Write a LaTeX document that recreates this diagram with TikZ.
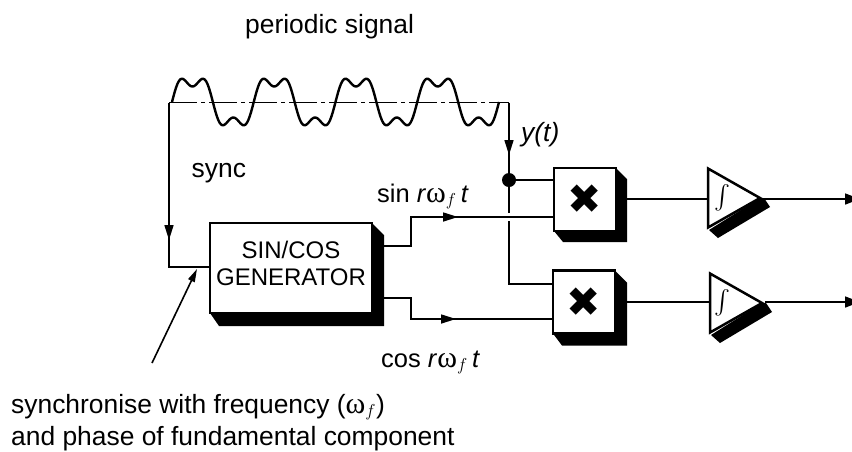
\documentclass[tikz,border=0pt]{standalone}
\usepackage{amsmath,amssymb}
\usepackage{fontspec}
\setmainfont{Liberation Sans}
\newfontfamily\symbfont{DejaVu Sans}
\newfontfamily\greekfont{Liberation Serif}
\usetikzlibrary{arrows.meta,shapes.geometric,calc}

\newcommand{\omf}{{\greekfont\fontsize{30}{30}\selectfont ω}$_{f}$}
\newcommand{\romf}{\textit{r}\omf\,\textit{t}}

\begin{document}
\begin{tikzpicture}
		[
			x=1pt,y=-1pt,
			align=center,
			font=\fontsize{26.4}{32}\selectfont,
			label/.style={draw=none,fill=none,inner sep=0pt},
			block/.style={draw,line width=2.5pt,fill=white,rectangle,inner sep=0pt,outer sep=0pt},
			mult/.style={block,minimum width=62pt,minimum height=63pt,font=\symbfont\fontsize{41}{41}\selectfont},
			integ/.style={draw,line width=2.5pt,fill=white,isosceles triangle,isosceles triangle stretches,
				minimum width=59pt,minimum height=52pt,inner sep=0pt,outer sep=0pt,anchor=apex},
			wire/.style={line width=1.6pt},
			tip/.style={line width=1.6pt,-{Triangle[length=15pt,width=9pt]}},
			endtip/.style={line width=1.6pt,-{Triangle[length=15pt,width=11pt]}}
		]

		\useasboundingbox (0,0) rectangle (852,451);

		% blocks
		\node[block,minimum width=162pt,minimum height=90pt,font=\fontsize{24}{27}\selectfont] (gen) at ( 291, 268 ) {SIN/COS\\GENERATOR\\[-18pt]};
		\node[mult] (m1) at ( 585, 199.5 ) {✖};
		\node[mult] (m2) at ( 584, 302 ) {✖};
		\node[integ] (i1) at ( 760, 198 ) {};
		\node[integ] (i2) at ( 762, 303 ) {};

		% block shadows
		\foreach \nd/\dx/\dy in {gen/12/13,m1/11/11,m2/12/12}
		\fill (\nd.north east) -- ++(\dx,\dx) -- ($(\nd.south east)+(\dx,\dy)$) -- ($(\nd.south west)+(9,\dy)$) -- (\nd.south west) -- (\nd.south east) -- cycle;
		\foreach \nd in {i1,i2}
		\fill (\nd.apex) -- ++(4,0) -- ++(6,9) -- ++(-52,31) -- ++(-9,-8) -- cycle;

		% integral signs
		\node[label,font=\fontsize{24}{24}\selectfont] (s1) at ( 722, 198 ) {$\int$};
		\node[label,font=\fontsize{24}{24}\selectfont] (s2) at ( 722, 303 ) {$\int$};

		% periodic signal
		\draw[line width=2.4pt] plot[domain=0:1440,samples=241] ({172+\x*0.2271},{102-24.2*(sin(\x)+.36*sin(3*\x))});
		\coordinate (lft) at ( 169, 102.5 );
		\coordinate (rgt) at ( 509, 102.5 );
		\draw[wire,dash pattern=on 28pt off 4pt on 4pt off 4pt] (lft) -- (500,102.5);
		\draw[wire] (500,102.5) -- (rgt);

		% junction
		\node[circle,fill,inner sep=0pt,minimum size=14pt] (jn) at ( 509, 180 ) {};
		\coordinate (gapa) at ( 509, 213 );
		\coordinate (gapb) at ( 509, 221 );

		% inputs and outputs
		\coordinate (syncc) at ( 169, 267 );
		\coordinate (outa) at ( 860, 199 );
		\coordinate (outb) at ( 860, 302 );
		\coordinate (sinout) at ( 384, 246 );
		\coordinate (cosout) at ( 384, 298 );
		\coordinate (sinbend) at ( 411, 217 );
		\coordinate (cosbend) at ( 411, 319 );
		\coordinate (m1sh) at ( 627, 199 );
		\coordinate (m2sh) at ( 626, 302 );
		\coordinate (i1out) at ( 763, 199 );
		\coordinate (i2out) at ( 765, 302 );

		% wires
		\draw[wire] (lft) -- (syncc) -- (gen.west |- syncc);
		\draw[wire] (rgt) -- (jn);
		\draw[wire] (jn) -- (gapa);
		\draw[wire] (jn) -- (m1.west |- jn);
		\draw[wire] (gapb) |- (m2.west |- 0,284);
		\draw[wire] (sinout) -| (sinbend) -- (m1.west |- sinbend);
		\draw[wire] (cosout) -| (cosbend) -- (m2.west |- cosbend);
		\draw[wire] (m1sh) -- (i1.west |- m1sh);
		\draw[wire] (m2sh) -- (i2.west |- m2sh);
		\draw[wire] (i1out) -- (845,199);
		\draw[wire] (i2out) -- (845,302);

		% arrow heads
		\foreach \from/\to in {{509,140}/{509,155},{169,223}/{169,240},{443,217}/{458,217},{441,319}/{456,319}}
		\draw[tip] (\from) -- (\to);
		\draw[endtip] (845,199) -- (outa);
		\draw[endtip] (845,302) -- (outb);

		% note arrow
		\coordinate (notefrom) at ( 152, 363 );
		\coordinate (noteto) at ( 197, 269 );
		\draw[line width=1.6pt,-{Triangle[length=13pt,width=7pt]}] (notefrom) -- (noteto);

		% labels
		\node[label,anchor=base west] (title) at ( 245, 33 ) {periodic signal};
		\node[label,anchor=base west] (sync) at ( 191.5, 177 ) {sync};
		\node[label,anchor=base west] (yt) at ( 521, 141.5 ) {\textit{y(t)}};
		\node[label,anchor=base west,font=\fontsize{25.5}{30}\selectfont] (sinl) at ( 377, 202 ) {sin \romf};
		\node[label,anchor=base west,font=\fontsize{25.5}{30}\selectfont] (cosl) at ( 381, 367 ) {cos \romf};
		\node[label,anchor=base west,align=left] (note) at ( 11, 445 ) {synchronise with frequency (\omf)\\and phase of fundamental component};

	\end{tikzpicture}
\end{document}
